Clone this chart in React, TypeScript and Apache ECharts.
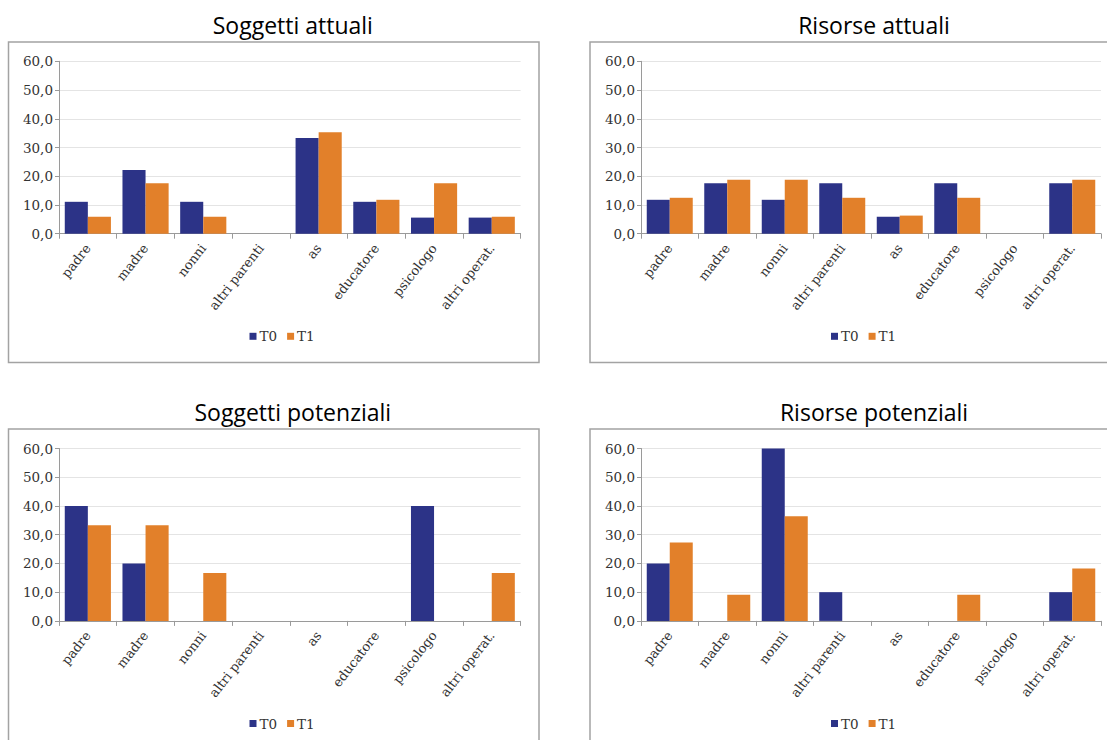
import React, { useEffect, useRef } from "react";
import * as echarts from "echarts";

const categories = ["padre", "madre", "nonni", "altri parenti", "as", "educatore", "psicologo", "altri operat."];
const seriesNames = ["T0", "T1"];
const titles = ["Soggetti attuali", "Risorse attuali", "Soggetti potenziali", "Risorse potenziali"];

const soggettiAttualiT0 = [11.1, 22.2, 11.1, 0, 33.3, 11.1, 5.6, 5.6];
const soggettiAttualiT1 = [5.9, 17.6, 5.9, 0, 35.3, 11.8, 17.6, 5.9];
const risorseAttualiT0 = [11.8, 17.6, 11.8, 17.6, 5.9, 17.6, 0, 17.6];
const risorseAttualiT1 = [12.5, 18.8, 18.8, 12.5, 6.3, 12.5, 0, 18.8];
const soggettiPotenzialiT0 = [40.0, 20.0, 0, 0, 0, 0, 40.0, 0];
const soggettiPotenzialiT1 = [33.3, 33.3, 16.7, 0, 0, 0, 0, 16.7];
const risorsePotenzialiT0 = [20.0, 0, 60.0, 10.0, 0, 0, 0, 10.0];
const risorsePotenzialiT1 = [27.3, 9.1, 36.4, 0, 0, 9.1, 0, 18.2];

const yTicks = { min: 0, max: 60, interval: 10 };

const COLORS = ["#2c3387", "#e2802a"];
const SERIF = "'DejaVu Serif', serif";
const SANS = "'Open Sans', sans-serif";

export default function App() {
  const ref = useRef<HTMLDivElement>(null);
  useEffect(() => {
    if (!ref.current) return;
    const chart = echarts.init(ref.current, undefined, { renderer: "svg" });

    const panelData = [
      [soggettiAttualiT0, soggettiAttualiT1],
      [risorseAttualiT0, risorseAttualiT1],
      [soggettiPotenzialiT0, soggettiPotenzialiT1],
      [risorsePotenzialiT0, risorsePotenzialiT1],
    ];
    const panels = [
      { left: 59, top: 61.3, width: 461.6, box: [8.5, 42, 530.5, 320.5] },
      { left: 641, top: 61.3, width: 460, box: [590, 42, 540, 320.5] },
      { left: 59, top: 448.5, width: 461.6, box: [8.5, 429, 530.5, 330] },
      { left: 641, top: 448.5, width: 460, box: [590, 429, 540, 330] },
    ];
    const plotH = 172.4;

    const grid = panels.map((p) => ({ left: p.left, top: p.top, width: p.width, height: plotH }));
    const xAxis = panels.map((_, i) => ({
      type: "category",
      gridIndex: i,
      data: categories,
      axisLine: { show: true, lineStyle: { color: "#9a9a9a", width: 1 } },
      axisTick: { show: true, length: 5, lineStyle: { color: "#9a9a9a" } },
      axisLabel: {
        rotate: 52,
        interval: 0,
        margin: 12,
        hideOverlap: false,
        fontFamily: SERIF,
        fontSize: 13,
        color: "#333",
      },
    }));
    const yAxis = panels.map((_, i) => ({
      type: "value",
      gridIndex: i,
      min: yTicks.min,
      max: yTicks.max,
      interval: yTicks.interval,
      axisLine: { show: true, lineStyle: { color: "#9a9a9a", width: 1 } },
      axisTick: { show: true, length: 4, lineStyle: { color: "#9a9a9a" } },
      axisLabel: {
        margin: 6,
        fontFamily: SERIF,
        fontSize: 13.5,
        color: "#333",
        formatter: (v: number) => v.toFixed(1).replace(".", ","),
      },
      splitLine: { show: true, lineStyle: { color: "#e4e4e4", width: 1 } },
    }));
    const series: any[] = [];
    panelData.forEach((pd, i) => {
      pd.forEach((vals, s) => {
        series.push({
          type: "bar",
          name: seriesNames[s],
          xAxisIndex: i,
          yAxisIndex: i,
          data: vals,
          barGap: "0%",
          barCategoryGap: "20%",
          itemStyle: { color: COLORS[s] },
        });
      });
    });
    const legend = panels.map((p) => ({
      data: seriesNames,
      left: p.box[0] + 236,
      top: p.top + 263,
      icon: "rect",
      itemWidth: 7,
      itemHeight: 7,
      itemGap: 10,
      textStyle: { fontFamily: SERIF, fontSize: 13.5, color: "#333", padding: [0, 0, 0, -2] },
    }));
    const title = panels.map((p, i) => ({
      text: titles[i],
      left: p.left + p.width / 2 - 2,
      top: p.top - 53,
      textAlign: "center",
      textStyle: { fontFamily: SANS, fontSize: 23, fontWeight: "normal", color: "#000" },
    }));
    const graphic: any[] = panels.map((p) => ({
      type: "rect",
      shape: { x: p.box[0], y: p.box[1], width: p.box[2], height: p.box[3] },
      style: { fill: "none", stroke: "#a3a3a3", lineWidth: 1.5 },
      z: -1,
    }));

    chart.setOption({
      animation: false,
      backgroundColor: "#fff",
      title,
      grid,
      xAxis,
      yAxis,
      series,
      legend,
      graphic,
    } as any);
    return () => chart.dispose();
  }, []);
  return <div ref={ref} style={{ position: "fixed", left: 0, top: 0, width: 1107, height: 740 }} />;
}
